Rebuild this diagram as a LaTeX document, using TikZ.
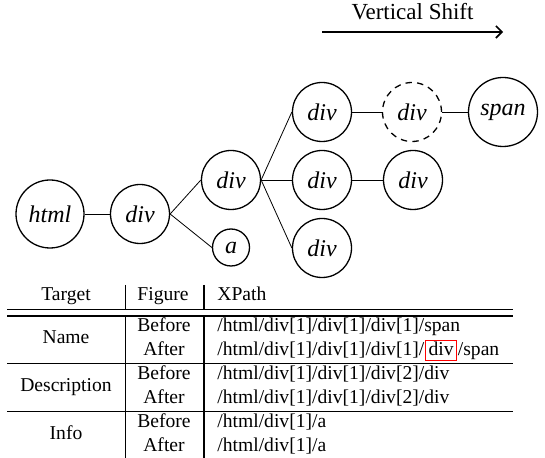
\documentclass[tikz,border=0pt]{standalone}
\usepackage{fontspec}
\setmainfont{Liberation Serif}
\usetikzlibrary{positioning,arrows.meta}

\tikzset{
	tag/.style={draw, circle, line width=0.65pt, inner sep=0pt, minimum size=29.5pt, font=\fontsize{12}{14}\selectfont\itshape},
	ghost/.style={tag, dashed, dash pattern=on 3.2pt off 2.6pt},
	cell/.style={inner sep=0pt, font=\fontsize{9.8}{12}\selectfont, text height=7pt, text depth=2.2pt},
	rule/.style={line width=0.55pt}
}

\begin{document}
\begin{tikzpicture}[x=0.5pt, y=-0.5pt]
	\useasboundingbox (0,0) rectangle (545,458);
	% shift arrow
	\draw[line width=0.8pt, -{Straight Barb[length=3pt, width=6pt]}] (322,32) -- (503,32) node[midway, above=2.5pt, font=\fontsize{11.5}{13}\selectfont] {Vertical Shift};
	% dom tree
	\node (html) at (50,214) [tag, minimum size=34pt] {html};
	\node (d1) at (140,214) [tag] {div};
	\node (a) at (231,247.5) [tag, minimum size=18.5pt] {a};
	\node (d2) at (231,180) [tag] {div};
	\node (d3a) at (322,112) [tag] {div};
	\node (d3b) at (322,180) [tag] {div};
	\node (d3c) at (322,248) [tag] {div};
	\node (dnew) at (412,112) [ghost] {div};
	\node (span) at (503,112) [tag, minimum size=34.5pt] {span};
	\node (d4) at (413,180) [tag] {div};
	\draw (html.east) -- (d1.west);
	\draw (d1.east) -- (d2.west);
	\draw (d1.east) -- (a.west);
	\draw (d2.east) -- (d3a.west);
	\draw (d2.east) -- (d3b.west);
	\draw (d2.east) -- (d3c.west);
	\draw (d3a.east) -- (dnew.west);
	\draw (dnew.east) -- (span.west);
	\draw (d3b.east) -- (d4.west);
	% table rules
	\draw[rule] (7,309.5) -- (513,309.5);
	\draw[rule] (7,316) -- (513,316);
	\draw[rule] (7,363.3) -- (513,363.3);
	\draw[rule] (7,411.7) -- (513,411.7);
	\foreach \x in {125.7,204} {
		\draw[rule] (\x,285) -- (\x,309.5);
		\draw[rule] (\x,316) -- (\x,458);
	}
	% header
	\node (hTarget) at (66,296) [cell] {Target};
	\node (hFigure) at (163,296) [cell] {Figure};
	\node (hXPath) at (217,296) [cell, anchor=west] {XPath};
	% first column
	\node (tName) at (66,338.5) [cell] {Name};
	\node (tDesc) at (66,386.5) [cell] {Description};
	\node (tInfo) at (66,434.5) [cell] {Info};
	% second column
	\foreach \y in {327,375,423} {
		\node at (164,\y) [cell] {Before};
		\node at (164,\y+23.5) [cell] {After};
	}
	% third column
	\node (p1) at (217,327) [cell, anchor=west] {/html/div[1]/div[1]/div[1]/span};
	\node (p2) at (217,350.5) [cell, anchor=west] {/html/div[1]/div[1]/div[1]/};
	\node (hl) [cell, right=0.3pt of p2, draw=red, line width=0.5pt, inner xsep=1.4pt, inner ysep=0.4pt] {div};
	\node (p2b) [cell, right=0.3pt of hl] {/span};
	\node (p3) at (217,375) [cell, anchor=west] {/html/div[1]/div[1]/div[2]/div};
	\node (p4) at (217,398.5) [cell, anchor=west] {/html/div[1]/div[1]/div[2]/div};
	\node (p5) at (217,423) [cell, anchor=west] {/html/div[1]/a};
	\node (p6) at (217,446.5) [cell, anchor=west] {/html/div[1]/a};
\end{tikzpicture}
\end{document}
